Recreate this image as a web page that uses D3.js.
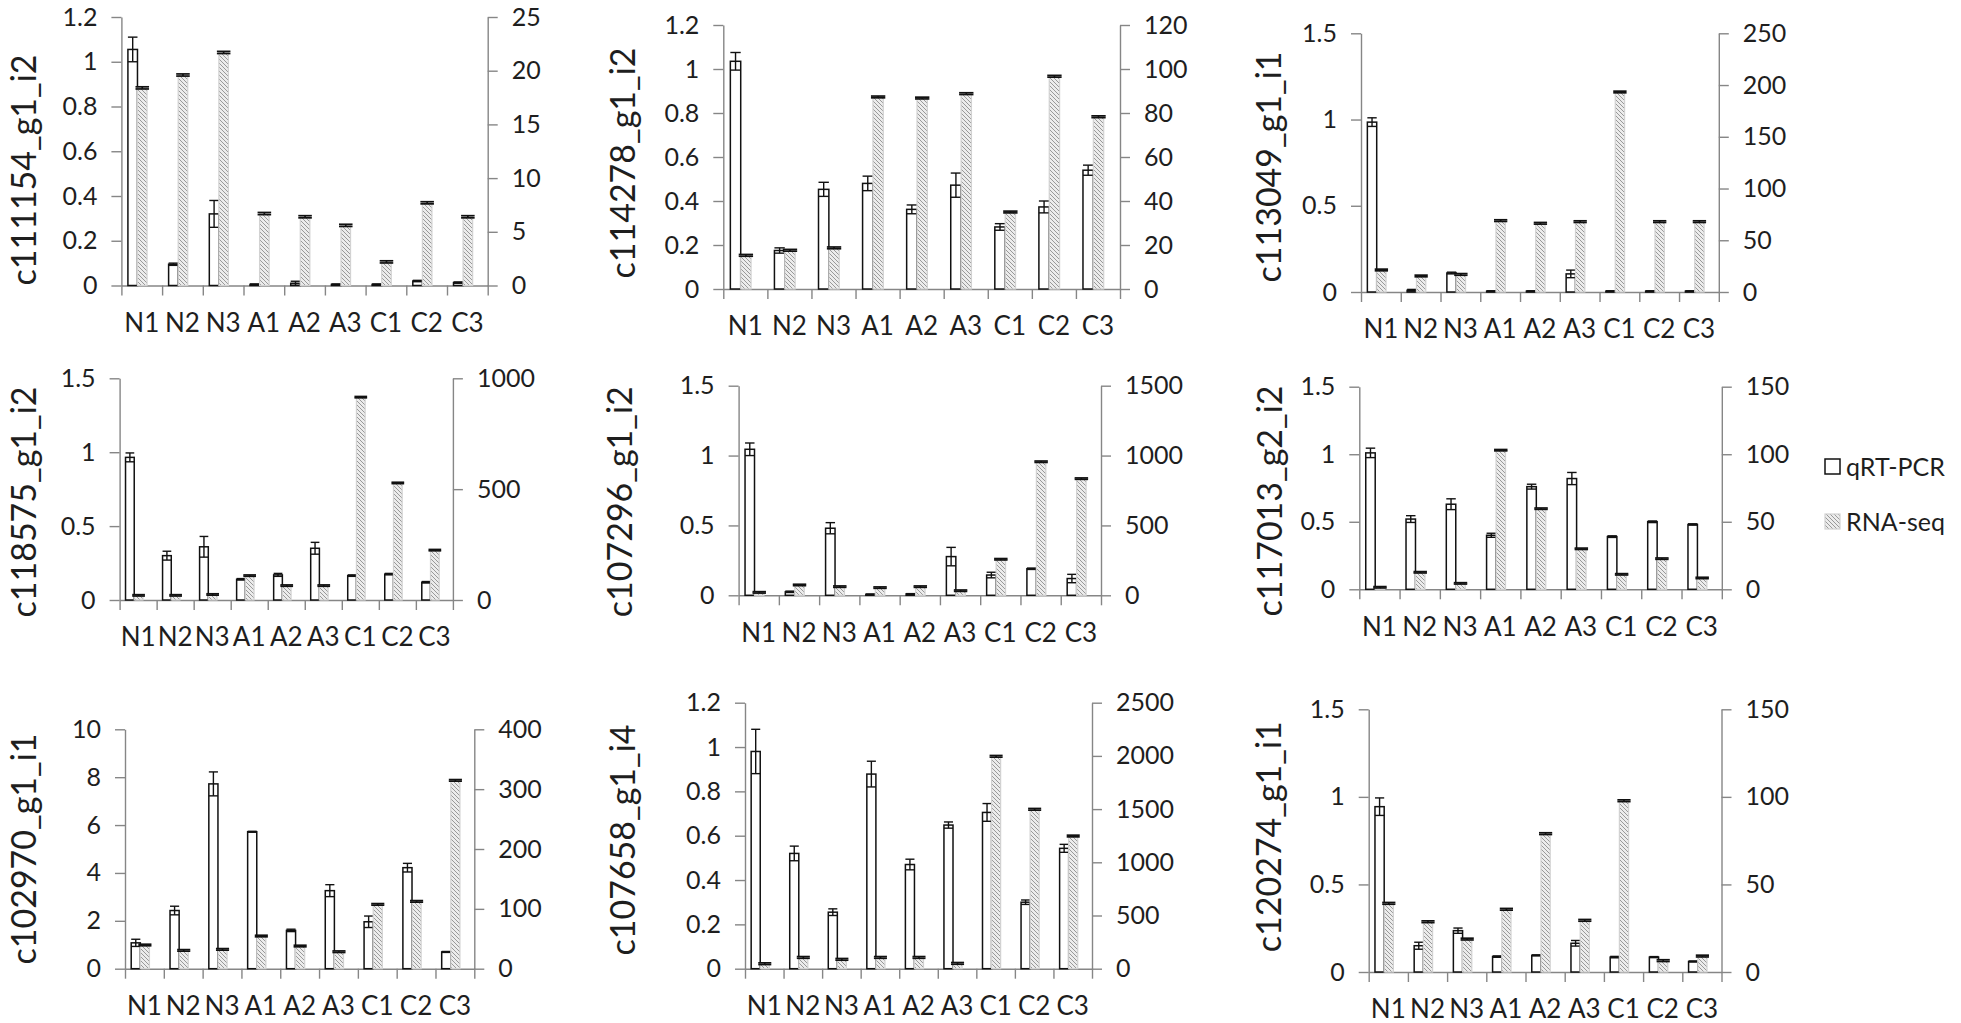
<!DOCTYPE html>
<html><head><meta charset="utf-8">
<script src="https://cdn.jsdelivr.net/npm/d3@7"></script>
<style>
html,body{margin:0;padding:0;background:#fff;}
svg{display:block;}
text{font-family:Lato,"Open Sans",sans-serif;fill:#1e1e1e;}
</style></head><body>
<svg id="chart" width="1961" height="1023"></svg>
<script>
// ---------------- data ----------------
const categories = ["N1","N2","N3","A1","A2","A3","C1","C2","C3"];
const genes = ["c111154_g1_i2","c114278_g1_i2","c113049_g1_i1",
               "c118575_g1_i2","c107296_g1_i2","c117013_g2_i2",
               "c102970_g1_i1","c107658_g1_i4","c120274_g1_i1"];
const leftMax  = [1.2, 1.2, 1.5, 1.5, 1.5, 1.5, 10, 1.2, 1.5];
const leftStep = [0.2, 0.2, 0.5, 0.5, 0.5, 0.5, 2, 0.2, 0.5];
const rightMax  = [25, 120, 250, 1000, 1500, 150, 400, 2500, 150];
const rightStep = [5, 20, 50, 500, 500, 50, 100, 500, 50];
const legendLabels = ["qRT-PCR", "RNA-seq"];

// qRT-PCR relative expression (left axis)
const qrtMean = [
  [1.055, 0.095, 0.32, 0.005, 0.01, 0.005, 0.005, 0.02, 0.013],
  [1.035, 0.175, 0.453, 0.48, 0.362, 0.472, 0.282, 0.373, 0.54],
  [0.985, 0.01, 0.11, 0.005, 0.005, 0.105, 0.005, 0.005, 0.005],
  [0.965, 0.3, 0.36, 0.14, 0.17, 0.35, 0.165, 0.175, 0.12],
  [1.045, 0.025, 0.48, 0.007, 0.01, 0.277, 0.145, 0.19, 0.12],
  [1.01, 0.52, 0.63, 0.4, 0.76, 0.82, 0.39, 0.5, 0.48],
  [1.08, 2.43, 7.72, 5.72, 1.6, 3.26, 1.96, 4.22, 0.7],
  [0.98, 0.52, 0.255, 0.878, 0.47, 0.648, 0.705, 0.3, 0.543],
  [0.944, 0.15, 0.236, 0.088, 0.095, 0.164, 0.085, 0.085, 0.06]
];
const qrtErr = [
  [0.055, 0.005, 0.06, 0.002, 0.009, 0.002, 0.002, 0.003, 0.003],
  [0.04, 0.012, 0.032, 0.033, 0.02, 0.055, 0.015, 0.027, 0.023],
  [0.025, 0.005, 0.005, 0.002, 0.002, 0.022, 0.002, 0.002, 0.002],
  [0.03, 0.03, 0.07, 0.005, 0.01, 0.04, 0.005, 0.005, 0.005],
  [0.045, 0.005, 0.04, 0.002, 0.002, 0.066, 0.02, 0.005, 0.03],
  [0.035, 0.025, 0.04, 0.015, 0.018, 0.045, 0.006, 0.006, 0.005],
  [0.15, 0.18, 0.5, 0.02, 0.05, 0.25, 0.24, 0.18, 0.02],
  [0.1, 0.033, 0.015, 0.058, 0.024, 0.014, 0.04, 0.01, 0.018],
  [0.05, 0.02, 0.015, 0.004, 0.003, 0.016, 0.004, 0.003, 0.003]
];
// RNA-seq expression (right axis)
const rnaMean = [
  [18.4, 19.6, 21.7, 6.7, 6.4, 5.6, 2.2, 7.7, 6.4],
  [15.3, 17.6, 18.7, 87.3, 86.8, 88.8, 35, 96.7, 78.3],
  [21.3, 15.5, 17, 69, 66.4, 68, 193.3, 68, 68],
  [21, 21, 25, 110, 65, 65, 915, 528, 225],
  [21, 74, 62, 55, 62, 33, 258, 956, 835],
  [1.5, 12.6, 4.4, 103, 59.7, 30, 11.1, 22.7, 8.4],
  [39.6, 30.6, 32.3, 54.6, 37.9, 28.4, 107.5, 112.5, 314.7],
  [47, 106, 88, 106, 106, 50, 1996, 1498, 1247],
  [39.2, 28.7, 18.8, 35.8, 79, 29.5, 97.8, 6.5, 9.1]
];
const rnaErr = [
  [0.1, 0.1, 0.1, 0.1, 0.1, 0.1, 0.1, 0.1, 0.1],
  [0.4, 0.4, 0.4, 0.4, 0.4, 0.4, 0.4, 0.4, 0.4],
  [0.8, 0.8, 0.8, 0.8, 0.8, 0.8, 0.8, 0.8, 0.8],
  [3, 3, 3, 3, 3, 3, 3, 3, 3],
  [5, 5, 5, 5, 5, 5, 5, 5, 5],
  [0.5, 0.5, 0.5, 0.5, 0.5, 0.5, 0.5, 0.5, 0.5],
  [1.3, 1.3, 1.3, 1.3, 1.3, 1.3, 1.3, 1.3, 1.3],
  [8, 8, 8, 8, 8, 8, 8, 8, 8],
  [0.5, 0.5, 0.5, 0.5, 0.5, 0.5, 0.5, 0.5, 0.5]
];

// ---------------- layout (pixels) ----------------
const plotLeft  = [121.4, 723.3, 1361, 119.6, 738.6, 1359.3, 125, 745, 1368.7];
const plotRight = [487.7, 1120, 1718.8, 452.9, 1101, 1721.8, 474.3, 1092, 1721.5];
const plotTop   = [17, 25, 33.3, 378.3, 385.7, 386.7, 729.3, 702.7, 709.3];
const plotZero  = [285.5, 289, 292, 600, 595.3, 589.3, 968.7, 968.7, 972];
const titleBase = [35.5, 635, 1280.5, 35.5, 631.5, 1282, 35.5, 635, 1280.5];
const titleY    = [170, 163, 167, 502, 501.7, 501, 849, 840, 836.7];

const AXIS = "#868686", INK = "#111";
const svg = d3.select("#chart");

const defs = svg.append("defs");
const pat = defs.append("pattern").attr("id","hatch")
  .attr("patternUnits","userSpaceOnUse").attr("width",4).attr("height",4);
pat.append("rect").attr("width",4).attr("height",4).attr("fill","#ececec");
pat.append("path").attr("d","M-1,-1 L5,5 M3,-1 L5,1 M-1,3 L1,5")
  .attr("stroke","#8a8a8a").attr("stroke-width",0.85);

const fmt = d => String(+d.toFixed(2));

genes.forEach((gene, i) => {
  const L = plotLeft[i], R = plotRight[i], T = plotTop[i], Z = plotZero[i];
  const g = svg.append("g");
  const x = d3.scaleBand().domain(categories).range([L, R]);
  const xi = d3.scaleLinear().domain([0, categories.length]).range([L, R]);
  const yL = d3.scaleLinear().domain([0, leftMax[i]]).range([Z, T]);
  const yR = d3.scaleLinear().domain([0, rightMax[i]]).range([Z, T]);
  const bw = x.bandwidth();
  const qx = 0.16 * bw, w = 0.235 * bw, rx = qx + w;

  // axes
  const left = g.append("g").attr("transform", `translate(${L},0)`)
    .call(d3.axisLeft(yL).tickValues(d3.range(0, leftMax[i] + 1e-9, leftStep[i]))
      .tickSize(10).tickSizeOuter(0).tickPadding(14).tickFormat(fmt));
  const right = g.append("g").attr("transform", `translate(${R},0)`)
    .call(d3.axisRight(yR).tickValues(d3.range(0, rightMax[i] + 1e-9, rightStep[i]))
      .tickSize(10).tickSizeOuter(0).tickPadding(14).tickFormat(fmt));
  const bot = g.append("g").attr("transform", `translate(0,${Z})`)
    .call(d3.axisBottom(xi).tickValues(d3.range(categories.length + 1))
      .tickSize(10).tickSizeOuter(0).tickFormat(""));
  const labs = g.append("g").attr("transform", `translate(0,${Z})`)
    .call(d3.axisBottom(x).tickSize(0).tickPadding(28));
  labs.select(".domain").remove();
  [left, right, bot].forEach(a => {
    a.select(".domain").attr("stroke", AXIS).attr("stroke-width", 1.4);
    a.selectAll(".tick line").attr("stroke", AXIS).attr("stroke-width", 1.4);
  });
  [left, right].forEach(a => a.selectAll("text")
    .attr("font-family", "Lato, sans-serif").attr("font-size", 25).attr("fill", "#1e1e1e"));
  labs.selectAll("text")
    .attr("font-family", "Lato, sans-serif").attr("font-size", 26).attr("fill", "#1e1e1e");

  // qRT-PCR bars
  g.append("g").selectAll("rect").data(qrtMean[i]).join("rect")
    .attr("x", (d, j) => x(categories[j]) + qx)
    .attr("y", d => yL(d)).attr("width", w).attr("height", d => Z - yL(d))
    .attr("fill", "#fff").attr("stroke", INK).attr("stroke-width", 1.5);
  const qe = g.append("g").attr("stroke", INK).attr("stroke-width", 1.4);
  qrtMean[i].forEach((v, j) => {
    const cx = x(categories[j]) + qx + w / 2, e = qrtErr[i][j];
    const lo = yL(Math.max(0, v - e)), hi = yL(v + e);
    qe.append("line").attr("x1", cx).attr("x2", cx).attr("y1", lo).attr("y2", hi);
    qe.append("line").attr("x1", cx - w / 2).attr("x2", cx + w / 2).attr("y1", lo).attr("y2", lo);
    qe.append("line").attr("x1", cx - w / 2).attr("x2", cx + w / 2).attr("y1", hi).attr("y2", hi);
  });

  // RNA-seq bars (secondary axis)
  g.append("g").selectAll("rect").data(rnaMean[i]).join("rect")
    .attr("x", (d, j) => x(categories[j]) + rx)
    .attr("y", d => yR(d)).attr("width", w).attr("height", d => Z - yR(d))
    .attr("fill", "url(#hatch)").attr("stroke", "#d2d2d2").attr("stroke-width", 1.2);
  const re = g.append("g").attr("stroke", INK).attr("stroke-width", 1.7);
  rnaMean[i].forEach((v, j) => {
    const cx = x(categories[j]) + rx + w / 2, e = rnaErr[i][j];
    const lo = yR(Math.max(0, v - e)), hi = yR(v + e);
    re.append("line").attr("x1", cx).attr("x2", cx).attr("y1", lo).attr("y2", hi);
    re.append("line").attr("x1", cx - w / 2 - 2).attr("x2", cx + w / 2 + 2).attr("y1", lo).attr("y2", lo);
    re.append("line").attr("x1", cx - w / 2 - 2).attr("x2", cx + w / 2 + 2).attr("y1", hi).attr("y2", hi);
  });

  // axis title
  g.append("text")
    .attr("transform", `translate(${titleBase[i]},${titleY[i]}) rotate(-90)`)
    .attr("text-anchor", "middle").attr("font-size", 34).text(gene);
});

// legend
const lg = svg.append("g");
lg.append("rect").attr("x", 1825).attr("y", 459).attr("width", 15).attr("height", 15)
  .attr("fill", "#fff").attr("stroke", INK).attr("stroke-width", 1.5);
lg.append("rect").attr("x", 1825).attr("y", 514).attr("width", 15).attr("height", 15)
  .attr("fill", "url(#hatch)").attr("stroke", "#d2d2d2").attr("stroke-width", 1.2);
lg.selectAll("text").data(legendLabels).join("text")
  .attr("x", 1846).attr("y", (d, k) => 467 + k * 55).attr("dy", "0.35em")
  .attr("font-size", 25).text(d => d);
</script>
</body></html>
